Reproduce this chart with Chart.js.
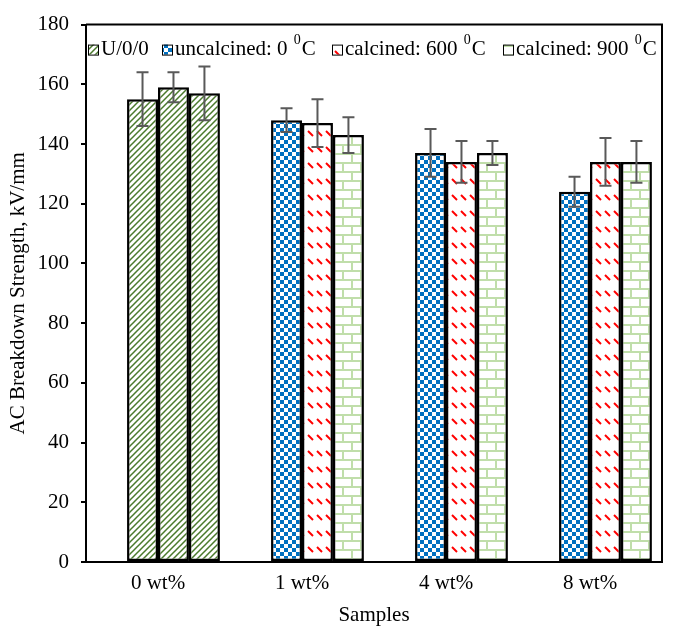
<!DOCTYPE html>
<html lang="en">
<head>
<meta charset="UTF-8">
<title>AC Breakdown Strength</title>
<script src="https://cdn.jsdelivr.net/npm/chart.js"></script>
<style>
  body { margin: 0; background: #fff; }
  .box { width: 673px; height: 628px; }
</style>
</head>
<body>
<div class="box"><canvas id="myChart"></canvas></div>

<script>
// data
const categories = ['0 wt%', '1 wt%', '4 wt%', '8 wt%'];
const seriesNames = ['U/0/0', 'uncalcined: 0 ⁰C', 'calcined: 600 ⁰C', 'calcined: 900 ⁰C'];
const u00 = [null, null, null, null];           // legend only, its slot stays empty
const uncalcined = [155, 148, 137, 124];
const calcined600 = [159, 147, 134, 134];
const calcined900 = [157, 143, 137, 134];
const errUncalcined = [9, 4, 8, 5];
const errCalcined600 = [5, 8, 7, 8];
const errCalcined900 = [9, 6, 4, 7];
const u00Index = 0;                              // the 0 wt% sample is U/0/0 in every series
const yTicks = [0, 180, 20];                     // min, max, step

const serif = '"Liberation Serif", "Times New Roman", serif';

// fill patterns
function tile(w, h, draw) {
    const c = document.createElement('canvas');
    c.width = w; c.height = h;
    const g = c.getContext('2d');
    g.fillStyle = '#fff';
    g.fillRect(0, 0, w, h);
    draw(g);
    return g.createPattern(c, 'repeat');
}

const fillGreenDiag = tile(6, 6, g => {
    g.strokeStyle = '#4a7a2c';
    g.lineWidth = 1.5;
    g.beginPath();
    g.moveTo(-1, 7); g.lineTo(7, -1);
    g.moveTo(-4, 4); g.lineTo(4, -4);
    g.moveTo(2, 10); g.lineTo(10, 2);
    g.stroke();
});

const fillBlue = tile(8, 8, g => {
    g.fillStyle = '#0070c0';
    g.fillRect(0, 0, 4, 4);
    g.fillRect(4, 4, 4, 4);
});

const fillRed = tile(9, 16, g => {
    g.strokeStyle = '#ff0000';
    g.lineWidth = 2;
    g.beginPath();
    g.moveTo(2, 3); g.lineTo(7, 8);
    g.stroke();
});

const fillBrick = tile(18, 18, g => {
    g.strokeStyle = '#c0deaa';
    g.lineWidth = 2;
    g.beginPath();
    g.moveTo(0, 1); g.lineTo(18, 1);
    g.moveTo(0, 10); g.lineTo(18, 10);
    g.moveTo(1, 1); g.lineTo(1, 10);
    g.moveTo(10, 10); g.lineTo(10, 18);
    g.stroke();
});

const legendFills = [fillGreenDiag, fillBlue, fillRed, fillBrick];

function withU00(fill) {
    return c => c.dataIndex === u00Index ? fillGreenDiag : fill;
}

// error bars drawn from the y scale
const errorBars = {
    id: 'errorBars',
    afterDatasetsDraw(chart) {
        const ctx = chart.ctx;
        const y = chart.scales.y;
        ctx.save();
        ctx.strokeStyle = '#595959';
        ctx.lineWidth = 2;
        chart.data.datasets.forEach((ds, i) => {
            if (!ds.err) return;
            chart.getDatasetMeta(i).data.forEach((bar, j) => {
                const v = ds.data[j];
                if (v == null) return;
                const top = y.getPixelForValue(v + ds.err[j]);
                const bot = y.getPixelForValue(v - ds.err[j]);
                ctx.beginPath();
                ctx.moveTo(bar.x, top); ctx.lineTo(bar.x, bot);
                ctx.moveTo(bar.x - 6, top); ctx.lineTo(bar.x + 6, top);
                ctx.moveTo(bar.x - 6, bot); ctx.lineTo(bar.x + 6, bot);
                ctx.stroke();
            });
        });
        ctx.restore();
    }
};

// top and right border of the plot area
const frame = {
    id: 'frame',
    afterDraw(chart) {
        const { ctx, chartArea: a } = chart;
        ctx.save();
        ctx.strokeStyle = '#000';
        ctx.lineWidth = 2;
        ctx.beginPath();
        ctx.moveTo(a.left, a.top);
        ctx.lineTo(a.right, a.top);
        ctx.lineTo(a.right, a.bottom);
        ctx.stroke();
        ctx.restore();
    }
};

// legend inside the plot, with a raised degree zero
const legendX = [88, 162, 332, 503];
const insideLegend = {
    id: 'insideLegend',
    afterDraw(chart) {
        const ctx = chart.ctx;
        const yMid = chart.chartArea.top + 25;
        ctx.save();
        ctx.textBaseline = 'middle';
        seriesNames.forEach((name, i) => {
            const x = legendX[i];
            ctx.fillStyle = legendFills[i];
            ctx.fillRect(x, yMid - 5, 10, 10);
            ctx.strokeStyle = '#000';
            ctx.lineWidth = 1;
            ctx.strokeRect(x + 0.5, yMid - 4.5, 10, 10);
            ctx.fillStyle = '#000';
            const parts = name.split('⁰');
            let tx = x + 13;
            ctx.font = '21px ' + serif;
            ctx.fillText(parts[0], tx, yMid);
            tx += ctx.measureText(parts[0]).width;
            if (parts.length > 1) {
                ctx.font = '14px ' + serif;
                ctx.fillText('0', tx + 1, yMid - 9);
                tx += ctx.measureText('0').width + 2;
                ctx.font = '21px ' + serif;
                ctx.fillText(parts[1], tx, yMid);
            }
        });
        ctx.restore();
    }
};

const font = { family: serif, size: 21 };

new Chart(document.getElementById('myChart'), {
    type: 'bar',
    data: {
        labels: categories,
        datasets: [
            { label: seriesNames[0], data: u00, backgroundColor: fillGreenDiag },
            { label: seriesNames[1], data: uncalcined, err: errUncalcined, backgroundColor: withU00(fillBlue) },
            { label: seriesNames[2], data: calcined600, err: errCalcined600, backgroundColor: withU00(fillRed) },
            { label: seriesNames[3], data: calcined900, err: errCalcined900, backgroundColor: withU00(fillBrick) }
        ]
    },
    options: {
        responsive: true,
        maintainAspectRatio: false,
        animation: false,
        layout: { padding: { top: 22, right: 11, left: 0, bottom: 0 } },
        datasets: {
            bar: {
                borderColor: '#000',
                borderWidth: 2.5,
                borderSkipped: false,
                categoryPercentage: 0.86,
                barPercentage: 1
            }
        },
        plugins: {
            legend: { display: false },
            tooltip: { enabled: false }
        },
        scales: {
            x: {
                grid: { display: false, drawTicks: false },
                border: { color: '#000', width: 2 },
                ticks: { color: '#000', font: font, padding: 9 },
                title: { display: true, text: 'Samples', color: '#000', font: font, padding: { top: 0, bottom: 0 } },
                afterFit: s => { s.height = 66; }
            },
            y: {
                min: yTicks[0],
                max: yTicks[1],
                ticks: { stepSize: yTicks[2], color: '#000', font: font, padding: 12 },
                grid: { drawOnChartArea: false, color: '#000', lineWidth: 2, tickLength: 5 },
                border: { color: '#000', width: 2 },
                title: { display: true, text: 'AC Breakdown Strength, kV/mm', color: '#000', font: font, padding: { top: 6, bottom: 0 } },
                afterFit: s => { s.width = 86; }
            }
        }
    },
    plugins: [errorBars, frame, insideLegend]
});
</script>
</body>
</html>
